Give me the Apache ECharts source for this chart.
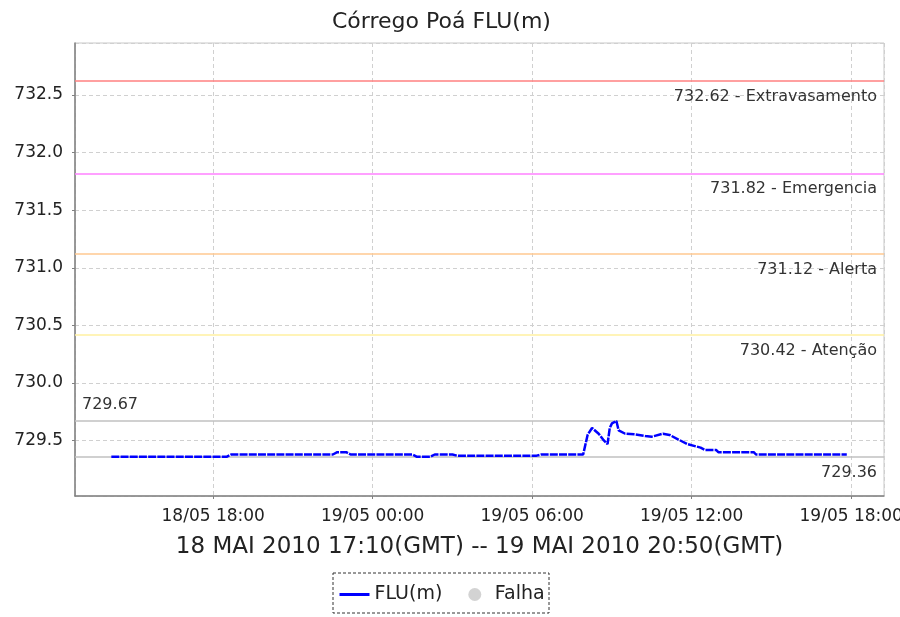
<!DOCTYPE html>
<html>
<head>
<meta charset="utf-8">
<script src="https://cdn.jsdelivr.net/npm/echarts@6/dist/echarts.min.js"></script>
<style>
  html, body { margin: 0; padding: 0; background: #fff; }
  #chart { width: 900px; height: 617px; }
</style>
</head>
<body>
<div id="chart"></div>
<script>
// leituras do nivel (hora local, metros)
const times = [
  '2010-05-18 14:10', '2010-05-18 18:30', '2010-05-18 18:40', '2010-05-18 22:30',
  '2010-05-18 22:40', '2010-05-18 23:00', '2010-05-18 23:10', '2010-05-19 01:30',
  '2010-05-19 01:40', '2010-05-19 02:10', '2010-05-19 02:20', '2010-05-19 03:00',
  '2010-05-19 03:10', '2010-05-19 06:10', '2010-05-19 06:20', '2010-05-19 07:55',
  '2010-05-19 08:05', '2010-05-19 08:15', '2010-05-19 08:30', '2010-05-19 08:40',
  '2010-05-19 08:50', '2010-05-19 08:55', '2010-05-19 09:00', '2010-05-19 09:10',
  '2010-05-19 09:15', '2010-05-19 09:30', '2010-05-19 09:50', '2010-05-19 10:15',
  '2010-05-19 10:30', '2010-05-19 10:55', '2010-05-19 11:10', '2010-05-19 11:30',
  '2010-05-19 11:50', '2010-05-19 12:10', '2010-05-19 12:20', '2010-05-19 12:30',
  '2010-05-19 12:55', '2010-05-19 13:00', '2010-05-19 14:20', '2010-05-19 14:25',
  '2010-05-19 17:50'
]
const levels = [
  729.36, 729.36, 729.38, 729.38,
  729.40, 729.40, 729.38, 729.38,
  729.36, 729.36, 729.38, 729.38,
  729.37, 729.37, 729.38, 729.38,
  729.55, 729.61, 729.56, 729.51,
  729.47, 729.61, 729.65, 729.67,
  729.59, 729.56, 729.555, 729.54,
  729.535, 729.56, 729.55, 729.51,
  729.47, 729.45, 729.44, 729.42,
  729.42, 729.40, 729.40, 729.38,
  729.38
]

// cotas de referencia
const limitValues = [732.62, 731.82, 731.12, 730.42]
const limitNames = ['Extravasamento', 'Emergencia', 'Alerta', 'Atenção']

const titleText = 'Córrego Poá FLU(m)'
const periodText = '18 MAI 2010 17:10(GMT) -- 19 MAI 2010 20:50(GMT)'
const axisStart = '2010-05-18 12:48'
const axisEnd = '2010-05-19 19:14'

const limitColors = ['#ff8080', '#ff80ff', '#ffc890', '#fff0a0']
const font = 'DejaVu Sans'

const pad = n => (n < 10 ? '0' : '') + n
const parseTime = s => {
  const [d, t] = s.split(' ')
  const [y, m, dd] = d.split('-').map(Number)
  const [hh, mm] = t.split(':').map(Number)
  return new Date(y, m - 1, dd, hh, mm).getTime()
}

const seriesData = times.map((t, i) => [parseTime(t), levels[i]])

const limitLines = limitValues.map((v, i) => ({
  yAxis: v,
  lineStyle: { color: limitColors[i], width: 1.5, type: 'solid' },
  label: {
    position: 'insideEndBottom',
    formatter: v.toFixed(2) + ' - ' + limitNames[i]
  }
}))

const chart = echarts.init(document.getElementById('chart'))
chart.setOption({
  animation: false,
  textStyle: { fontFamily: font },
  title: {
    text: titleText,
    left: 327,
    top: 6,
    textStyle: { fontFamily: font, fontSize: 22, fontWeight: 'normal', color: '#222' }
  },
  grid: {
    left: 75,
    right: 16,
    top: 43,
    bottom: 121,
    outerBoundsMode: 'none',
    containLabel: false,
    show: true,
    borderColor: '#c8c8c8',
    borderWidth: 1
  },
  legend: {
    bottom: 8,
    left: 333,
    itemGap: 26,
    itemWidth: 30,
    itemHeight: 13,
    textStyle: { fontFamily: font, fontSize: 19, color: '#222' },
    lineStyle: { type: 'solid', width: 3 },
    data: [
      { name: 'FLU(m)', itemStyle: { opacity: 0 } },
      { name: 'Falha', icon: 'circle' }
    ]
  },
  graphic: [{
    type: 'rect',
    shape: { x: 333, y: 573, width: 216, height: 40 },
    style: { fill: 'none', stroke: '#333', lineWidth: 1, lineDash: [3, 2] },
    silent: true
  }],
  xAxis: {
    type: 'time',
    min: parseTime(axisStart),
    max: parseTime(axisEnd),
    splitNumber: 5,
    name: periodText,
    nameLocation: 'middle',
    nameGap: 40,
    nameTextStyle: { fontFamily: font, fontSize: 23, color: '#222' },
    axisLine: { lineStyle: { color: '#808080', width: 1.5 } },
    axisTick: { show: true, length: 3, lineStyle: { color: '#808080' } },
    axisLabel: {
      margin: 12,
      fontSize: 17,
      color: '#222',
      fontFamily: font,
      showMinLabel: false,
      showMaxLabel: false,
      hideOverlap: false,
      formatter: val => {
        const d = new Date(val)
        return pad(d.getDate()) + '/' + pad(d.getMonth() + 1) + ' ' + pad(d.getHours()) + ':' + pad(d.getMinutes())
      }
    },
    splitLine: { show: true, lineStyle: { color: '#d0d0d0', type: [4, 3] } }
  },
  yAxis: {
    type: 'value',
    min: 729.02,
    max: 732.95,
    splitNumber: 8,
    axisLine: { show: true, lineStyle: { color: '#808080', width: 1.5 } },
    axisTick: { show: true, length: 3, lineStyle: { color: '#808080' } },
    axisLabel: {
      margin: 12,
      fontSize: 17,
      color: '#222',
      fontFamily: font,
      showMinLabel: false,
      showMaxLabel: false,
      formatter: v => v.toFixed(1)
    },
    splitLine: { show: true, lineStyle: { color: '#d0d0d0', type: [4, 3] } }
  },
  series: [
    {
      name: 'FLU(m)',
      type: 'line',
      symbol: 'none',
      color: '#0000ff',
      z: 3,
      lineStyle: { color: '#0000ff', width: 2.5, type: [8, 1.2] },
      data: seriesData,
      markLine: {
        silent: true,
        symbol: 'none',
        z: 1,
        label: {
          fontFamily: font,
          fontSize: 16,
          color: '#333',
          distance: [7, 8]
        },
        data: limitLines.concat([
          {
            type: 'max',
            lineStyle: { color: '#c0c0c0', width: 1.5, type: 'solid' },
            label: { position: 'insideStartTop', formatter: p => p.value.toFixed(2) }
          },
          {
            type: 'min',
            lineStyle: { color: '#c0c0c0', width: 1.5, type: 'solid' },
            label: { position: 'insideEndBottom', formatter: p => p.value.toFixed(2) }
          }
        ])
      }
    },
    {
      name: 'Falha',
      type: 'scatter',
      color: '#c8c8c8',
      symbolSize: 10,
      data: []
    }
  ]
})
</script>
</body>
</html>
